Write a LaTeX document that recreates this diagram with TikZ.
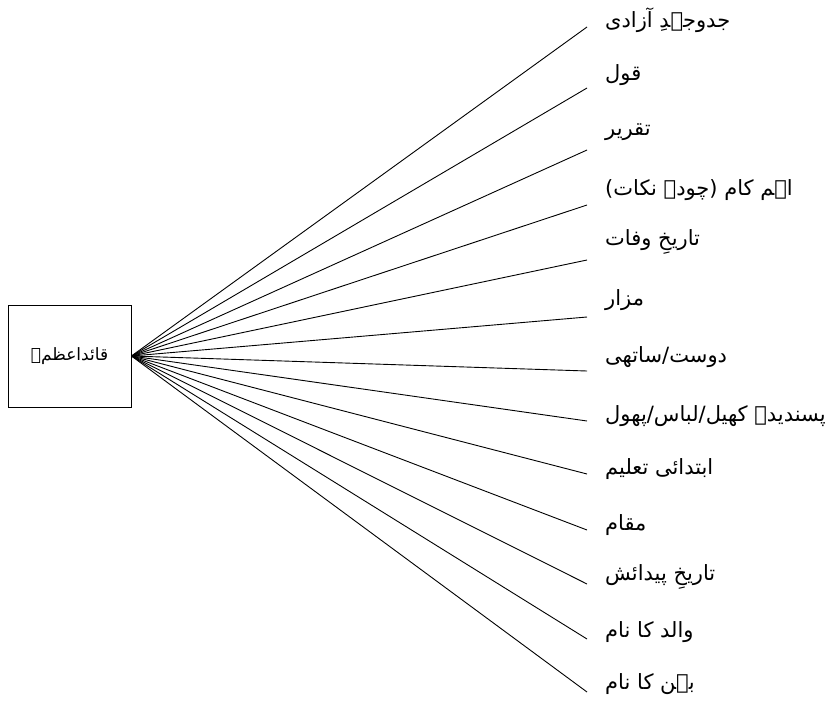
\documentclass[tikz,border=0pt]{standalone}
\usepackage{fontspec}
\TeXXeTstate=1
\newfontfamily\urdufont[Script=Arabic]{DejaVu Sans}
\tikzset{
  lbl/.style={anchor=west,inner sep=0pt,font=\urdufont\fontsize{21}{24}\selectfont},
  spoke/.style={draw=black,line width=0.9pt},
  boxnode/.style={draw=black,line width=0.9pt,minimum width=123pt,minimum height=102pt,inner sep=0pt,font=\urdufont\fontsize{17}{20}\selectfont}
}
\begin{document}
\begin{tikzpicture}[x=1pt,y=-1pt]
\useasboundingbox (0,0) rectangle (837,720);
\node[boxnode] (q) at (69.5,356) {\beginR قائداعظمؒ\endR};
\coordinate (e1) at (587,27);
\coordinate (e2) at (587,88);
\coordinate (e3) at (587,150);
\coordinate (e4) at (587,205);
\coordinate (e5) at (587,260);
\coordinate (e6) at (587,317);
\coordinate (e7) at (587,371);
\coordinate (e8) at (587,421);
\coordinate (e9) at (587,474);
\coordinate (e10) at (587,530);
\coordinate (e11) at (587,584);
\coordinate (e12) at (587,639);
\coordinate (e13) at (587,692);
\node[lbl] (l1) at (605,20) {\beginR جدوجہدِ آزادی\endR};
\node[lbl] (l2) at (605,75) {\beginR قول\endR};
\node[lbl] (l3) at (605,132) {\beginR تقریر\endR};
\node[lbl] (l4) at (605,190) {\beginR اہم کام (چودہ نکات)\endR};
\node[lbl] (l5) at (605,242) {\beginR تاریخِ وفات\endR};
\node[lbl] (l6) at (605,300) {\beginR مزار\endR};
\node[lbl] (l7) at (605,357) {\beginR دوست/ساتھی\endR};
\node[lbl] (l8) at (605,416) {\beginR پسندیدہ کھیل/لباس/پھول\endR};
\node[lbl] (l9) at (605,469) {\beginR ابتدائی تعلیم\endR};
\node[lbl] (l10) at (605,525) {\beginR مقام\endR};
\node[lbl] (l11) at (605,577) {\beginR تاریخِ پیدائش\endR};
\node[lbl] (l12) at (605,632) {\beginR والد کا نام\endR};
\node[lbl] (l13) at (605,684) {\beginR بہن کا نام\endR};
\foreach \i in {1,...,13} {\draw[spoke] (q.east) -- (e\i);}
\end{tikzpicture}
\end{document}
